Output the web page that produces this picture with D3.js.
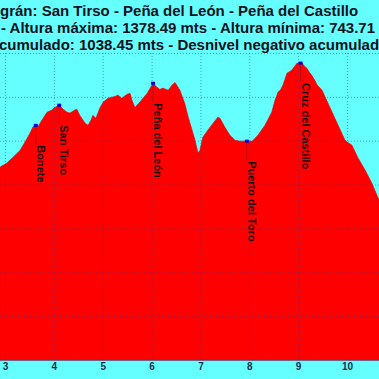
<!DOCTYPE html>
<html>
<head>
<meta charset="utf-8">
<script src="https://cdn.jsdelivr.net/npm/d3@7"></script>
<style>
  body { margin: 0; overflow: hidden; background: #66ffff; }
  svg { display: block; }
</style>
</head>
<body>
<script>
// Profile data (distance in km, altitude in m)
const distKm = [2.85, 2.90, 3.04, 3.16, 3.31, 3.41, 3.51, 3.57, 3.63, 3.68, 3.78, 3.86, 3.96, 4.02, 4.11,
  4.19, 4.27, 4.33, 4.43, 4.47, 4.53, 4.64, 4.70, 4.76, 4.80, 4.86, 4.94, 5.01, 5.11, 5.25, 5.31,
  5.39, 5.50, 5.56, 5.60, 5.66, 5.76, 5.91, 6.03, 6.11, 6.17, 6.23, 6.34, 6.42, 6.48, 6.58, 6.68,
  6.75, 6.83, 6.89, 6.95, 6.99, 7.05, 7.15, 7.26, 7.36, 7.40, 7.50, 7.60, 7.71, 7.81, 7.95, 8.06,
  8.18, 8.32, 8.46, 8.52, 8.59, 8.64, 8.69, 8.73, 8.77, 8.82, 8.87, 8.93, 8.98, 9.08, 9.13, 9.18,
  9.23, 9.28, 9.34, 9.39, 9.49, 9.63, 9.79, 9.96, 10.03, 10.10, 10.22, 10.37, 10.51, 10.63, 10.80];
const altitude = [1132, 1140, 1149, 1162, 1178, 1197, 1217, 1231, 1235, 1233, 1251, 1265, 1270, 1276, 1281,
  1272, 1265, 1263, 1270, 1272, 1258, 1240, 1235, 1247, 1258, 1251, 1274, 1288, 1297, 1301, 1304,
  1297, 1306, 1308, 1292, 1276, 1288, 1308, 1331, 1322, 1317, 1320, 1315, 1327, 1333, 1315, 1285,
  1254, 1224, 1201, 1172, 1178, 1208, 1224, 1240, 1254, 1251, 1231, 1213, 1201, 1199, 1199, 1199,
  1213, 1235, 1265, 1290, 1311, 1316, 1327, 1340, 1354, 1357, 1361, 1370, 1377, 1377, 1370, 1365,
  1356, 1349, 1338, 1327, 1315, 1281, 1242, 1201, 1195, 1190, 1162, 1133, 1103, 1071, 1040];

// Waypoints
const placeNames = ["Bonete", "San Tirso", "Peña del León", "Puerto del Toro", "Cruz del Castillo"];
const placeKm = [3.63, 4.11, 6.03, 7.95, 9.05];
const placeAlt = [1235, 1281, 1331, 1199, 1377];

// Axis ticks
const xTicks = [3, 4, 5, 6, 7, 8, 9, 10];
const yTicks = [800, 900, 1000, 1100, 1200, 1300, 1400];

// Title lines (the parts that show inside the frame)
const titleLines = [
  "grán: San Tirso - Peña del León - Peña del Castillo",
  "- Altura máxima: 1378.49 mts - Altura mínima: 743.71",
  "cumulado: 1038.45 mts - Desnivel negativo acumulado"
];

// Dimensions
const W = 379, H = 379;
const plot = { left: 5, right: 347, top: 53, bottom: 360 };

const svg = d3.select("body").append("svg")
    .attr("width", W)
    .attr("height", H)
    .style("font-family", "'Liberation Sans', Arial, sans-serif");

// Background
svg.append("rect")
    .attr("width", W).attr("height", H)
    .attr("fill", "#66ffff");

// Scales
const x = d3.scaleLinear().domain([3, 10]).range([plot.left, plot.right]);
const y = d3.scaleLinear().domain([700, 1400]).range([plot.bottom, plot.top]);

const profile = distKm.map((d, i) => ({ km: d, alt: altitude[i] }));

// Filled profile
const area = d3.area()
    .x(d => x(d.km))
    .y0(plot.bottom)
    .y1(d => y(d.alt));

svg.append("path")
    .datum(profile)
    .attr("d", area)
    .attr("fill", "#ff0000")
    .attr("stroke", "#ee0000")
    .attr("stroke-width", 0.6);

// Grid (drawn over the area, dotted)
svg.append("g")
    .attr("transform", `translate(0,${plot.bottom})`)
    .call(d3.axisBottom(x).tickValues(xTicks).tickSize(-(plot.bottom - plot.top)).tickFormat(""))
    .call(g => g.select(".domain").remove())
    .selectAll("line")
    .attr("stroke", "#2a3f9a")
    .attr("stroke-opacity", 0.5)
    .attr("stroke-dasharray", "1,2");

svg.append("g")
    .call(d3.axisLeft(y).tickValues(yTicks).tickSize(-W).tickFormat(""))
    .call(g => g.select(".domain").remove())
    .selectAll("line")
    .attr("stroke", "#2a3f9a")
    .attr("stroke-opacity", 0.5)
    .attr("stroke-dasharray", "1,2");

// Bottom axis line + labels
svg.append("line")
    .attr("x1", 0).attr("x2", W)
    .attr("y1", plot.bottom + 0.5).attr("y2", plot.bottom + 0.5)
    .attr("stroke", "#666a8a")
    .attr("stroke-width", 1);

svg.append("g")
    .attr("transform", `translate(0,${plot.bottom})`)
    .call(d3.axisBottom(x).tickValues(xTicks).tickSize(0).tickPadding(3).tickFormat(d3.format("d")))
    .call(g => g.select(".domain").remove())
    .selectAll("text")
    .attr("fill", "#1a3050")
    .style("font-size", "10px")
    .style("font-weight", "bold")
    .style("font-family", "'Liberation Sans', Arial, sans-serif");

// Waypoints: drop line, marker, rotated label
const places = placeNames.map((n, i) => ({ name: n, km: placeKm[i], alt: placeAlt[i] }));

svg.selectAll(".drop")
    .data(places)
    .enter().append("line")
    .attr("x1", d => x(d.km)).attr("x2", d => x(d.km))
    .attr("y1", d => y(d.alt)).attr("y2", d => y(d.alt) + 19)
    .attr("stroke", "#662222")
    .attr("stroke-opacity", 0.7)
    .attr("stroke-width", 0.7);

svg.selectAll(".marker")
    .data(places)
    .enter().append("rect")
    .attr("x", d => x(d.km) - 2)
    .attr("y", d => y(d.alt) - 1.5)
    .attr("width", 4)
    .attr("height", 3)
    .attr("fill", "#0000dd");

svg.selectAll(".place")
    .data(places)
    .enter().append("text")
    .attr("transform", d => `translate(${x(d.km) + 1},${y(d.alt) + 20}) rotate(90)`)
    .attr("fill", "#111")
    .style("font-size", "11px")
    .style("font-weight", "bold")
    .text(d => d.name);

// Title
svg.selectAll(".title")
    .data(titleLines)
    .enter().append("text")
    .attr("x", (d, i) => [0, 1, -1][i])
    .attr("y", (d, i) => 16 + i * 17)
    .attr("fill", "#111122")
    .style("font-size", "15px")
    .style("font-weight", "bold")
    .text(d => d);
</script>
</body>
</html>
